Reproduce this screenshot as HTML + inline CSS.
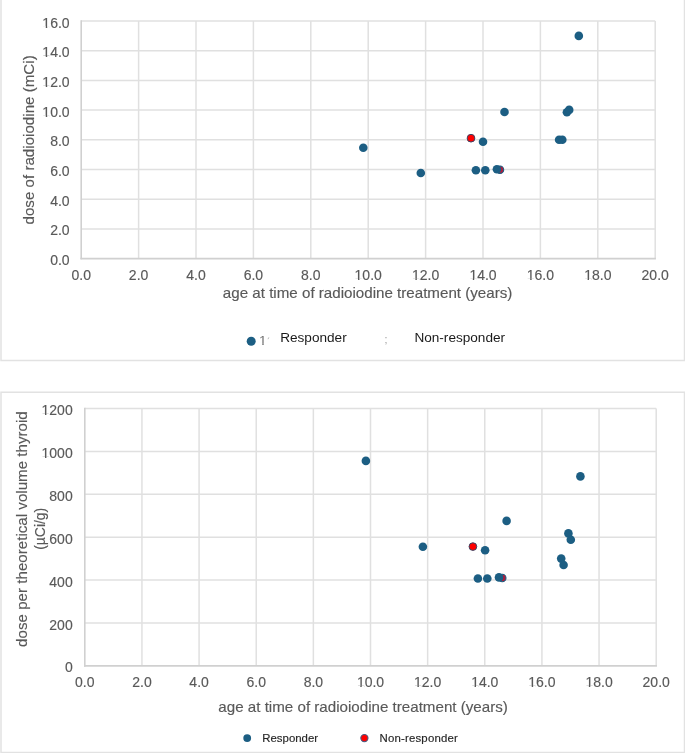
<!DOCTYPE html>
<html><head><meta charset="utf-8"><title>Radioiodine dose charts</title>
<style>
html,body{margin:0;padding:0;background:#fff;width:685px;height:753px;overflow:hidden}
svg{position:absolute;left:0;top:0;display:block}
.t{stroke:#595959;stroke-width:0.15px;font-family:"Liberation Sans",Arial,sans-serif;font-size:14px;fill:#595959}
.ti{stroke:#595959;stroke-width:0.15px;font-family:"Liberation Sans",Arial,sans-serif;font-size:15.15px;fill:#595959}
.lg{font-family:"Liberation Sans",Arial,sans-serif;font-size:13.6px;fill:#1a1a1a}
.lg1{font-family:"Liberation Sans",Arial,sans-serif;font-size:13.5px}
.lg2{stroke:#262626;stroke-width:0.15px;font-family:"Liberation Sans",Arial,sans-serif;font-size:11.4px;fill:#262626}
</style></head>
<body>
<svg width="685" height="753" viewBox="0 0 685 753">
<rect x="0" y="0" width="685" height="753" fill="#fff"/>
<!-- chart 1 frame -->
<path d="M1 -2 V360.5 H685" fill="none" stroke="#e2e2e2" stroke-width="1.5"/>
<line x1="684.4" y1="-2" x2="684.4" y2="360.5" stroke="#e2e2e2" stroke-width="1.3"/>
<!-- chart 2 frame -->
<path d="M685 392.3 H1 V752.5 H685" fill="none" stroke="#e2e2e2" stroke-width="1.5"/>
<line x1="684.4" y1="392.3" x2="684.4" y2="752.5" stroke="#e2e2e2" stroke-width="1.3"/>
<defs><clipPath id="nf"><path clip-rule="evenodd" d="M-5 -5H690V760H-5ZM42.44 115.40H45.77V117.40H42.44ZM47.21 115.40H49.90V117.40H47.21ZM42.44 85.70H45.77V87.70H42.44ZM47.21 85.70H49.90V87.70H47.21ZM42.44 56.00H45.77V58.00H42.44ZM47.21 56.00H49.90V58.00H47.21ZM42.44 26.30H45.77V28.30H42.44ZM47.21 26.30H49.90V28.30H47.21ZM354.66 278.50H358.00V280.50H354.66ZM359.43 278.50H362.13V280.50H359.43ZM412.06 278.50H415.40V280.50H412.06ZM416.83 278.50H419.53V280.50H416.83ZM469.46 278.50H472.80V280.50H469.46ZM474.23 278.50H476.93V280.50H474.23ZM526.86 278.50H530.20V280.50H526.86ZM531.63 278.50H534.33V280.50H531.63ZM584.26 278.50H587.60V280.50H584.26ZM589.03 278.50H591.73V280.50H589.03ZM259.06 343.84H262.29V345.80H259.06ZM263.69 343.84H266.30V345.80H263.69ZM41.64 456.70H44.98V458.70H41.64ZM46.41 456.70H49.11V458.70H46.41ZM41.64 413.80H44.98V415.80H41.64ZM46.41 413.80H49.11V415.80H46.41ZM356.96 685.80H360.30V687.80H356.96ZM361.73 685.80H364.43V687.80H361.73ZM414.10 685.80H417.44V687.80H414.10ZM418.87 685.80H421.57V687.80H418.87ZM471.24 685.80H474.58V687.80H471.24ZM476.01 685.80H478.71V687.80H476.01ZM528.38 685.80H531.72V687.80H528.38ZM533.15 685.80H535.85V687.80H533.15ZM585.52 685.80H588.86V687.80H585.52ZM590.29 685.80H592.99V687.80H590.29Z"/></clipPath></defs>
<g clip-path="url(#nf)">
<line x1="138.60" y1="21.00" x2="138.60" y2="258.60" stroke="#e0e0e0" stroke-width="1.5"/>
<line x1="196.00" y1="21.00" x2="196.00" y2="258.60" stroke="#e0e0e0" stroke-width="1.5"/>
<line x1="253.40" y1="21.00" x2="253.40" y2="258.60" stroke="#e0e0e0" stroke-width="1.5"/>
<line x1="310.80" y1="21.00" x2="310.80" y2="258.60" stroke="#e0e0e0" stroke-width="1.5"/>
<line x1="368.20" y1="21.00" x2="368.20" y2="258.60" stroke="#e0e0e0" stroke-width="1.5"/>
<line x1="425.60" y1="21.00" x2="425.60" y2="258.60" stroke="#e0e0e0" stroke-width="1.5"/>
<line x1="483.00" y1="21.00" x2="483.00" y2="258.60" stroke="#e0e0e0" stroke-width="1.5"/>
<line x1="540.40" y1="21.00" x2="540.40" y2="258.60" stroke="#e0e0e0" stroke-width="1.5"/>
<line x1="597.80" y1="21.00" x2="597.80" y2="258.60" stroke="#e0e0e0" stroke-width="1.5"/>
<line x1="655.20" y1="21.00" x2="655.20" y2="258.60" stroke="#e0e0e0" stroke-width="1.5"/>
<line x1="81.20" y1="228.90" x2="655.20" y2="228.90" stroke="#e0e0e0" stroke-width="1.5"/>
<line x1="81.20" y1="199.20" x2="655.20" y2="199.20" stroke="#e0e0e0" stroke-width="1.5"/>
<line x1="81.20" y1="169.50" x2="655.20" y2="169.50" stroke="#e0e0e0" stroke-width="1.5"/>
<line x1="81.20" y1="139.80" x2="655.20" y2="139.80" stroke="#e0e0e0" stroke-width="1.5"/>
<line x1="81.20" y1="110.10" x2="655.20" y2="110.10" stroke="#e0e0e0" stroke-width="1.5"/>
<line x1="81.20" y1="80.40" x2="655.20" y2="80.40" stroke="#e0e0e0" stroke-width="1.5"/>
<line x1="81.20" y1="50.70" x2="655.20" y2="50.70" stroke="#e0e0e0" stroke-width="1.5"/>
<line x1="81.20" y1="21.00" x2="655.20" y2="21.00" stroke="#e0e0e0" stroke-width="1.5"/>
<line x1="81.20" y1="20.25" x2="81.20" y2="259.35" stroke="#d0d0d0" stroke-width="1.6"/>
<line x1="80.45" y1="258.60" x2="655.95" y2="258.60" stroke="#d0d0d0" stroke-width="1.6"/>
<text x="69.6" y="265.10" text-anchor="end" class="t">0.0</text>
<text x="69.6" y="235.40" text-anchor="end" class="t">2.0</text>
<text x="69.6" y="205.70" text-anchor="end" class="t">4.0</text>
<text x="69.6" y="176.00" text-anchor="end" class="t">6.0</text>
<text x="69.6" y="146.30" text-anchor="end" class="t">8.0</text>
<text x="69.6" y="116.60" text-anchor="end" class="t">10.0</text>
<text x="69.6" y="86.90" text-anchor="end" class="t">12.0</text>
<text x="69.6" y="57.20" text-anchor="end" class="t">14.0</text>
<text x="69.6" y="27.50" text-anchor="end" class="t">16.0</text>
<text x="81.20" y="279.70" text-anchor="middle" class="t">0.0</text>
<text x="138.60" y="279.70" text-anchor="middle" class="t">2.0</text>
<text x="196.00" y="279.70" text-anchor="middle" class="t">4.0</text>
<text x="253.40" y="279.70" text-anchor="middle" class="t">6.0</text>
<text x="310.80" y="279.70" text-anchor="middle" class="t">8.0</text>
<text x="368.20" y="279.70" text-anchor="middle" class="t">10.0</text>
<text x="425.60" y="279.70" text-anchor="middle" class="t">12.0</text>
<text x="483.00" y="279.70" text-anchor="middle" class="t">14.0</text>
<text x="540.40" y="279.70" text-anchor="middle" class="t">16.0</text>
<text x="597.80" y="279.70" text-anchor="middle" class="t">18.0</text>
<text x="655.20" y="279.70" text-anchor="middle" class="t">20.0</text>
<text x="367.6" y="297.8" text-anchor="middle" class="ti">age at time of radioiodine treatment (years)</text>
<text transform="translate(34.1,139.9) rotate(-90)" text-anchor="middle" class="ti">dose of radioiodine (mCi)</text>
<circle cx="363.3" cy="147.7" r="4.3" fill="#1c5e83"/>
<circle cx="420.8" cy="173.0" r="4.3" fill="#1c5e83"/>
<circle cx="483.0" cy="141.8" r="4.3" fill="#1c5e83"/>
<circle cx="475.9" cy="170.2" r="4.3" fill="#1c5e83"/>
<circle cx="485.3" cy="170.2" r="4.3" fill="#1c5e83"/>
<circle cx="500.0" cy="169.7" r="3.7" fill="#b01c3c" stroke="#1c5e83" stroke-width="1.1"/>
<circle cx="496.9" cy="169.2" r="4.3" fill="#1c5e83"/>
<circle cx="504.5" cy="112.0" r="4.3" fill="#1c5e83"/>
<circle cx="559.1" cy="139.8" r="4.3" fill="#1c5e83"/>
<circle cx="562.3" cy="139.8" r="4.3" fill="#1c5e83"/>
<circle cx="566.9" cy="112.3" r="4.3" fill="#1c5e83"/>
<circle cx="569.2" cy="109.9" r="4.3" fill="#1c5e83"/>
<circle cx="578.8" cy="35.9" r="4.3" fill="#1c5e83"/>
<circle cx="471.0" cy="138.2" r="3.85" fill="#ff0000" stroke="#3a4566" stroke-width="1.0"/>
<circle cx="251.2" cy="341.2" r="4.5" fill="#1c5e83"/>
<text x="259" y="345" class="lg1" fill="#707070">1</text>
<line x1="268.0" y1="339.2" x2="268.8" y2="337.4" stroke="#b0b0b0" stroke-width="0.9"/>
<text x="280.2" y="341.6" class="lg">Responder</text>
<text x="384.6" y="343" class="lg" style="font-size:10.5px;fill:#9a9a9a">;</text>
<text x="414.4" y="341.8" class="lg">Non-responder</text>
<line x1="141.94" y1="408.50" x2="141.94" y2="665.90" stroke="#e0e0e0" stroke-width="1.5"/>
<line x1="199.08" y1="408.50" x2="199.08" y2="665.90" stroke="#e0e0e0" stroke-width="1.5"/>
<line x1="256.22" y1="408.50" x2="256.22" y2="665.90" stroke="#e0e0e0" stroke-width="1.5"/>
<line x1="313.36" y1="408.50" x2="313.36" y2="665.90" stroke="#e0e0e0" stroke-width="1.5"/>
<line x1="370.50" y1="408.50" x2="370.50" y2="665.90" stroke="#e0e0e0" stroke-width="1.5"/>
<line x1="427.64" y1="408.50" x2="427.64" y2="665.90" stroke="#e0e0e0" stroke-width="1.5"/>
<line x1="484.78" y1="408.50" x2="484.78" y2="665.90" stroke="#e0e0e0" stroke-width="1.5"/>
<line x1="541.92" y1="408.50" x2="541.92" y2="665.90" stroke="#e0e0e0" stroke-width="1.5"/>
<line x1="599.06" y1="408.50" x2="599.06" y2="665.90" stroke="#e0e0e0" stroke-width="1.5"/>
<line x1="656.20" y1="408.50" x2="656.20" y2="665.90" stroke="#e0e0e0" stroke-width="1.5"/>
<line x1="84.80" y1="623.00" x2="656.20" y2="623.00" stroke="#e0e0e0" stroke-width="1.5"/>
<line x1="84.80" y1="580.10" x2="656.20" y2="580.10" stroke="#e0e0e0" stroke-width="1.5"/>
<line x1="84.80" y1="537.20" x2="656.20" y2="537.20" stroke="#e0e0e0" stroke-width="1.5"/>
<line x1="84.80" y1="494.30" x2="656.20" y2="494.30" stroke="#e0e0e0" stroke-width="1.5"/>
<line x1="84.80" y1="451.40" x2="656.20" y2="451.40" stroke="#e0e0e0" stroke-width="1.5"/>
<line x1="84.80" y1="408.50" x2="656.20" y2="408.50" stroke="#e0e0e0" stroke-width="1.5"/>
<line x1="84.80" y1="407.75" x2="84.80" y2="666.65" stroke="#d0d0d0" stroke-width="1.6"/>
<line x1="84.05" y1="665.90" x2="656.95" y2="665.90" stroke="#d0d0d0" stroke-width="1.6"/>
<text x="72.7" y="672.40" text-anchor="end" class="t">0</text>
<text x="72.7" y="629.50" text-anchor="end" class="t">200</text>
<text x="72.7" y="586.60" text-anchor="end" class="t">400</text>
<text x="72.7" y="543.70" text-anchor="end" class="t">600</text>
<text x="72.7" y="500.80" text-anchor="end" class="t">800</text>
<text x="72.7" y="457.90" text-anchor="end" class="t">1000</text>
<text x="72.7" y="415.00" text-anchor="end" class="t">1200</text>
<text x="84.80" y="687.00" text-anchor="middle" class="t">0.0</text>
<text x="141.94" y="687.00" text-anchor="middle" class="t">2.0</text>
<text x="199.08" y="687.00" text-anchor="middle" class="t">4.0</text>
<text x="256.22" y="687.00" text-anchor="middle" class="t">6.0</text>
<text x="313.36" y="687.00" text-anchor="middle" class="t">8.0</text>
<text x="370.50" y="687.00" text-anchor="middle" class="t">10.0</text>
<text x="427.64" y="687.00" text-anchor="middle" class="t">12.0</text>
<text x="484.78" y="687.00" text-anchor="middle" class="t">14.0</text>
<text x="541.92" y="687.00" text-anchor="middle" class="t">16.0</text>
<text x="599.06" y="687.00" text-anchor="middle" class="t">18.0</text>
<text x="656.20" y="687.00" text-anchor="middle" class="t">20.0</text>
<text x="363.1" y="712.4" text-anchor="middle" class="ti">age at time of radioiodine treatment (years)</text>
<text transform="translate(27.1,529.05) rotate(-90)" text-anchor="middle" class="ti">dose per theoretical volume thyroid</text>
<text transform="translate(45.0,528.8) rotate(-90) scale(0.93,1)" text-anchor="middle" class="ti" style="font-size:15px">(µCi/g)</text>
<circle cx="365.9" cy="460.9" r="4.3" fill="#1c5e83"/>
<circle cx="422.9" cy="546.7" r="4.3" fill="#1c5e83"/>
<circle cx="485.1" cy="550.2" r="4.3" fill="#1c5e83"/>
<circle cx="477.9" cy="578.5" r="4.3" fill="#1c5e83"/>
<circle cx="487.3" cy="578.5" r="4.3" fill="#1c5e83"/>
<circle cx="502.3" cy="578.0" r="3.7" fill="#b01c3c" stroke="#1c5e83" stroke-width="1.1"/>
<circle cx="499.0" cy="577.4" r="4.3" fill="#1c5e83"/>
<circle cx="506.6" cy="520.9" r="4.3" fill="#1c5e83"/>
<circle cx="580.4" cy="476.4" r="4.3" fill="#1c5e83"/>
<circle cx="568.4" cy="533.4" r="4.3" fill="#1c5e83"/>
<circle cx="570.8" cy="539.8" r="4.3" fill="#1c5e83"/>
<circle cx="561.2" cy="558.6" r="4.3" fill="#1c5e83"/>
<circle cx="563.6" cy="565.0" r="4.3" fill="#1c5e83"/>
<circle cx="472.9" cy="546.6" r="3.85" fill="#ff0000" stroke="#3a4566" stroke-width="1.0"/>
<circle cx="247.2" cy="738.1" r="3.9" fill="#1c5e83"/>
<text x="262.3" y="741.8" class="lg2">Responder</text>
<circle cx="364.4" cy="738.1" r="3.6" fill="#ff0000" stroke="#4a5a80" stroke-width="1.1"/>
<text x="379.6" y="741.8" class="lg2" style="letter-spacing:0.18px">Non-responder</text>
</g>
</svg>
</body></html>
